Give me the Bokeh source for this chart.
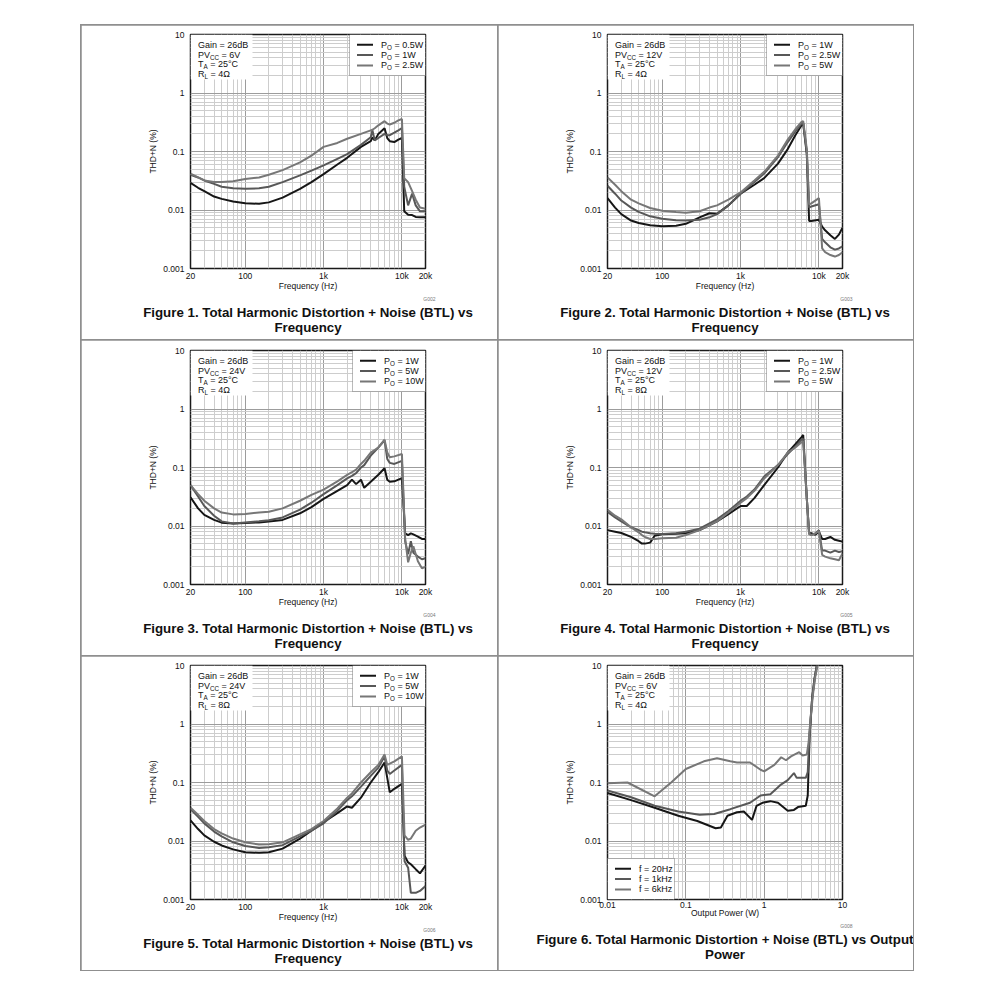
from bokeh.plotting import figure
from bokeh.layouts import row, column
from bokeh.models import Range1d, FixedTicker, Label, BoxAnnotation, Spacer, Title
from bokeh.embed import file_html
from bokeh.resources import INLINE

# ---------------- data ----------------
FREQ_TICKS = [20, 100, 1000, 10000, 20000]
FREQ_LABELS = ["20", "100", "1k", "10k", "20k"]
THD_TICKS = [0.001, 0.01, 0.1, 1, 10]
THD_LABELS = ["0.001", "0.01", "0.1", "1", "10"]
POWER_TICKS = [0.01, 0.1, 1, 10]
POWER_LABELS = ["0.01", "0.1", "1", "10"]

# Figure 1: PVcc = 6V, RL = 4 ohm
F1_FREQ = [20, 25, 30, 40, 50, 70, 100, 150, 200, 300, 500, 700, 1000, 1500, 2000, 3000,
           4000, 4200, 4500, 5000, 6000, 6500, 7000, 8000, 9000, 10000, 10700, 12000,
           13500, 15000, 17000, 20000]
F1_P05W = [0.029, 0.024, 0.021, 0.017, 0.0155, 0.014, 0.013, 0.0128, 0.0135, 0.0163, 0.023,
           0.030, 0.041, 0.060, 0.078, 0.12, 0.15, 0.175, 0.155, 0.2, 0.25, 0.17, 0.15, 0.145,
           0.16, 0.17, 0.0095, 0.0083, 0.0082, 0.0076, 0.0075, 0.0075]
F1_P1W = [0.04, 0.036, 0.032, 0.028, 0.025, 0.0235, 0.023, 0.0235, 0.025, 0.03, 0.039, 0.047,
          0.058, 0.075, 0.09, 0.13, 0.175, 0.23, 0.155, 0.17, 0.2, 0.19, 0.19, 0.21, 0.23, 0.25,
          0.025, 0.012, 0.019, 0.012, 0.0095, 0.0095]
F1_P25W = [0.042, 0.036, 0.032, 0.030, 0.030, 0.031, 0.034, 0.036, 0.04, 0.048, 0.065, 0.085,
           0.12, 0.14, 0.165, 0.2, 0.23, 0.235, 0.25, 0.28, 0.33, 0.3, 0.29, 0.31, 0.34, 0.36,
           0.035, 0.03, 0.021, 0.015, 0.011, 0.0105]

# Figure 2: PVcc = 12V, RL = 4 ohm
F2_FREQ = [20, 25, 30, 40, 50, 70, 100, 150, 200, 300, 400, 500, 700, 1000, 1500, 2000, 3000,
           4000, 5000, 6000, 6300, 7000, 7500, 8000, 10000, 11000, 12000, 14000, 16000, 18000,
           20000]
F2_P1W = [0.016, 0.011, 0.0085, 0.0066, 0.006, 0.0055, 0.0053, 0.0054, 0.0058, 0.0075, 0.0088,
          0.0086, 0.012, 0.019, 0.027, 0.035, 0.062, 0.11, 0.19, 0.28, 0.3, 0.09, 0.0065, 0.0065,
          0.0068, 0.0052, 0.0045, 0.0037, 0.0032, 0.0038, 0.005]
F2_P25W = [0.026, 0.019, 0.0145, 0.011, 0.0093, 0.0078, 0.0071, 0.0067, 0.0066, 0.0068, 0.0075,
           0.0085, 0.012, 0.019, 0.03, 0.042, 0.08, 0.145, 0.22, 0.3, 0.31, 0.1, 0.011, 0.0115,
           0.0125, 0.0032, 0.0028, 0.0023, 0.0021, 0.0022, 0.0024]
F2_P5W = [0.036, 0.027, 0.021, 0.015, 0.013, 0.0108, 0.0097, 0.0092, 0.009, 0.0095, 0.011, 0.012,
          0.015, 0.02, 0.032, 0.045, 0.085, 0.16, 0.24, 0.32, 0.33, 0.11, 0.0125, 0.013, 0.016,
          0.0022, 0.0019, 0.0017, 0.0016, 0.0017, 0.0019]

# Figure 3: PVcc = 24V, RL = 4 ohm
F3_FREQ = [20, 25, 30, 40, 50, 70, 100, 150, 200, 300, 500, 700, 1000, 1500, 2000, 2300, 2600,
           3000, 3300, 4000, 5000, 6000, 6500, 7000, 8000, 10000, 11000, 12000, 13000, 14000,
           16000, 18000, 20000]
F3_P1W = [0.031, 0.02, 0.0155, 0.0127, 0.0114, 0.011, 0.0113, 0.0115, 0.0119, 0.0127, 0.0165,
          0.021, 0.029, 0.04, 0.05, 0.062, 0.052, 0.062, 0.045, 0.057, 0.075, 0.097, 0.062, 0.057,
          0.058, 0.066, 0.0075, 0.007, 0.0075, 0.0072, 0.0066, 0.006, 0.006]
F3_P5W = [0.05, 0.032, 0.022, 0.015, 0.012, 0.011, 0.0115, 0.012, 0.0125, 0.014, 0.019, 0.025,
          0.035, 0.05, 0.065, 0.072, 0.08, 0.1, 0.11, 0.16, 0.22, 0.29, 0.14, 0.12, 0.115, 0.13,
          0.0055, 0.0033, 0.0055, 0.0035, 0.003, 0.0027, 0.0028]
F3_P10W = [0.05, 0.035, 0.027, 0.02, 0.017, 0.0158, 0.016, 0.017, 0.0175, 0.02, 0.027, 0.034,
           0.042, 0.058, 0.075, 0.083, 0.092, 0.115, 0.13, 0.18, 0.22, 0.3, 0.18, 0.15, 0.155,
           0.17, 0.006, 0.0024, 0.0035, 0.0045, 0.0025, 0.0019, 0.002]

# Figure 4: PVcc = 12V, RL = 8 ohm
F4_FREQ = [20, 25, 30, 40, 50, 55, 60, 70, 80, 100, 150, 200, 300, 500, 700, 1000, 1200, 1500,
           2000, 3000, 4000, 5000, 6000, 6300, 7000, 7500, 8000, 9000, 10000, 11000, 12000,
           14000, 16000, 18000, 20000]
F4_P1W = [0.0085, 0.008, 0.0076, 0.0065, 0.0055, 0.005, 0.005, 0.0052, 0.0068, 0.0072, 0.0074,
          0.0075, 0.0085, 0.012, 0.016, 0.022, 0.022, 0.03, 0.05, 0.1, 0.18, 0.25, 0.33, 0.36,
          0.03, 0.0075, 0.0075, 0.0071, 0.008, 0.006, 0.006, 0.0065, 0.0058, 0.0056, 0.0054]
F4_P25W = [0.0175, 0.014, 0.012, 0.0095, 0.0085, 0.008, 0.0078, 0.0075, 0.0074, 0.0073, 0.0075,
           0.008, 0.009, 0.013, 0.018, 0.027, 0.032, 0.042, 0.07, 0.11, 0.17, 0.23, 0.3, 0.31,
           0.03, 0.0075, 0.007, 0.0075, 0.0085, 0.0038, 0.0038, 0.0035, 0.0038, 0.0036, 0.0037]
F4_P5W = [0.019, 0.015, 0.013, 0.0095, 0.0078, 0.007, 0.0065, 0.006, 0.006, 0.0062, 0.0063,
          0.007, 0.0085, 0.012, 0.017, 0.025, 0.03, 0.04, 0.065, 0.11, 0.18, 0.22, 0.27, 0.28,
          0.03, 0.0072, 0.007, 0.0075, 0.0082, 0.0032, 0.003, 0.0028, 0.0027, 0.0026, 0.0034]

# Figure 5: PVcc = 24V, RL = 8 ohm
F5_FREQ = [20, 25, 30, 40, 50, 70, 100, 150, 200, 300, 500, 700, 1000, 1500, 2000, 2300, 3000,
           4000, 5000, 6000, 6500, 7000, 8000, 10000, 10800, 12000, 13000, 15000, 17000, 20000]
F5_P1W = [0.0225, 0.016, 0.0125, 0.0097, 0.0084, 0.0072, 0.0064, 0.0063, 0.0064, 0.0074, 0.011,
          0.015, 0.021, 0.03, 0.039, 0.037, 0.055, 0.1, 0.15, 0.22, 0.12, 0.068, 0.078, 0.095,
          0.0056, 0.0043, 0.004, 0.0033, 0.0028, 0.0038]
F5_P5W = [0.035, 0.026, 0.02, 0.0145, 0.012, 0.0095, 0.0082, 0.0076, 0.0078, 0.0085, 0.012,
          0.015, 0.02, 0.033, 0.05, 0.058, 0.085, 0.13, 0.18, 0.28, 0.16, 0.14, 0.16, 0.2,
          0.0045, 0.0035, 0.0013, 0.0013, 0.0014, 0.0017]
F5_P10W = [0.037, 0.028, 0.022, 0.016, 0.0135, 0.011, 0.0095, 0.0087, 0.0088, 0.0095, 0.013,
           0.016, 0.022, 0.036, 0.055, 0.065, 0.1, 0.15, 0.2, 0.3, 0.2, 0.21, 0.23, 0.28, 0.0125,
           0.0105, 0.011, 0.015, 0.017, 0.019]

# Figure 6: THD+N vs output power, PVcc = 6V, RL = 4 ohm
F6_POWER_20HZ = [0.01, 0.02, 0.04, 0.08, 0.14, 0.24, 0.28, 0.34, 0.45, 0.55, 0.7, 0.8, 0.95, 1.2,
                 1.5, 2.0, 2.4, 2.7, 3.4, 3.6, 3.8, 4.1, 4.4, 4.7]
F6_THD_20HZ = [0.066, 0.05, 0.037, 0.027, 0.022, 0.0165, 0.017, 0.027, 0.031, 0.032, 0.023, 0.04,
               0.045, 0.048, 0.045, 0.033, 0.034, 0.038, 0.04, 0.06, 0.6, 2.8, 6, 10]
F6_POWER_1KHZ = [0.01, 0.02, 0.04, 0.08, 0.15, 0.23, 0.37, 0.66, 0.9, 1.2, 1.6, 2.0, 2.4, 2.6,
                 3.4, 3.6, 3.8, 4.1, 4.4, 4.7]
F6_THD_1KHZ = [0.073, 0.056, 0.04, 0.032, 0.028, 0.029, 0.035, 0.045, 0.06, 0.063, 0.09, 0.11,
               0.145, 0.12, 0.12, 0.15, 0.7, 2.8, 6, 10]
F6_POWER_6KHZ = [0.01, 0.018, 0.04, 0.065, 0.1, 0.17, 0.25, 0.37, 0.45, 0.66, 0.9, 1.0, 1.35,
                 1.65, 1.9, 2.2, 2.8, 3.1, 3.5, 3.7, 3.9, 4.2, 4.5, 4.8]
F6_THD_6KHZ = [0.097, 0.1, 0.058, 0.1, 0.17, 0.23, 0.26, 0.23, 0.22, 0.22, 0.165, 0.155, 0.2,
               0.27, 0.24, 0.28, 0.33, 0.29, 0.3, 0.5, 1.2, 3.2, 6.5, 10]

# ---------------- styling ----------------
FONT = "Liberation Sans"
COLORS = ["#161616", "#585858", "#777777"]
FRAME_W, FRAME_H = 235, 234
COL_W = [416, 415]
ROW_H = [314, 315, 314]
ROW_TOP = [9, 10, 9]
LEFT = 109

ARIAL = {'P': 667, 'V': 667, 'T': 611, 'R': 722, 'C': 722, 'A': 667, 'L': 556, 'O': 778,
         ' ': 278}


def tw(s, size):
    return sum(ARIAL.get(c, 556) for c in s) * size / 1000.0


def label(p, x, y, text, size=9.0, align="left", color="#111111", style="normal"):
    p.add_layout(Label(x=x, y=y, x_units="screen", y_units="screen", text=text,
                       text_font=FONT, text_font_size=f"{size}px", text_align=align,
                       text_baseline="middle", text_color=color, text_font_style=style))


def sub_text(p, x, y, main, sub, rest, size=9.0, subsize=6.3):
    label(p, x, y, main, size)
    if sub:
        x2 = x + tw(main, size)
        label(p, x2, y - 2.5, sub, subsize)
        x3 = x2 + tw(sub, subsize) + tw(" ", size)
        label(p, x3, y, rest.strip(), size)


def log_minor(ticks_major, lo, hi):
    out = []
    for d in ticks_major:
        for k in range(2, 10):
            v = d * k
            if lo < v < hi:
                out.append(v)
    return out


def make_panel(r, c, xr, xticks, xlabels, xminor, xlabel, xs, ys, legend_items, legend_w,
               legend_bottom, conditions, caption, tag):
    w, h = COL_W[c], ROW_H[r]
    top = ROW_TOP[r]
    p = figure(width=w, height=h, x_axis_type="log", y_axis_type="log",
               x_range=Range1d(*xr), y_range=Range1d(0.001, 10),
               toolbar_location=None, output_backend="svg",
               min_border_left=LEFT, min_border_right=w - LEFT - FRAME_W,
               min_border_top=top, min_border_bottom=h - top - FRAME_H)
    p.outline_line_color = "#1a1a1a"
    p.outline_line_width = 1.5
    p.outline_line_alpha = 1.0

    xt = FixedTicker(ticks=xticks, minor_ticks=xminor)
    yt = FixedTicker(ticks=THD_TICKS, minor_ticks=log_minor([0.001, 0.01, 0.1, 1], 0.001, 10))
    p.xaxis.ticker = xt
    p.yaxis.ticker = yt
    p.xgrid.ticker = xt
    p.ygrid.ticker = yt
    p.xaxis.major_label_overrides = dict(zip(xticks, xlabels))
    p.yaxis.major_label_overrides = dict(zip(THD_TICKS, THD_LABELS))
    for g in (p.xgrid, p.ygrid):
        g.grid_line_color = "#9c9c9c"
        g.grid_line_width = 1
        g.minor_grid_line_color = "#cdcdcd"
        g.minor_grid_line_width = 1
    for ax in (p.xaxis, p.yaxis):
        ax.axis_line_color = None
        ax.major_tick_line_color = None
        ax.minor_tick_line_color = None
        ax.major_tick_out = 0
        ax.major_tick_in = 0
        ax.minor_tick_out = 0
        ax.minor_tick_in = 0
        ax.major_label_text_font = FONT
        ax.major_label_text_font_size = "8.5px"
        ax.major_label_text_color = "#111111"
        ax.axis_label_text_font = FONT
        ax.axis_label_text_font_size = "8.5px"
        ax.axis_label_text_font_style = "normal"
        ax.axis_label_text_color = "#111111"
    p.xaxis.axis_label = xlabel
    p.xaxis.major_label_standoff = 2
    p.xaxis.axis_label_standoff = -3
    p.yaxis.axis_label = "THD+N (%)"
    p.yaxis.major_label_standoff = 6
    p.yaxis.axis_label_standoff = 2

    for i, (x, y) in enumerate(zip(xs, ys)):
        p.line(x, y, line_color=COLORS[i], line_width=2)

    # white area behind the test conditions
    p.add_layout(BoxAnnotation(left=0, right=62, top=FRAME_H, bottom=FRAME_H - 45,
                               left_units="screen", right_units="screen",
                               top_units="screen", bottom_units="screen",
                               fill_color="white", fill_alpha=1.0, line_color=None))
    for i, (m, s, rest) in enumerate(conditions):
        sub_text(p, 7.5, FRAME_H - 10.5 - 9.6 * i, m, s, rest)

    # legend
    lh = 41
    if legend_bottom:
        lx0, ly0 = 0, 0
    else:
        lx0, ly0 = FRAME_W - legend_w, FRAME_H - lh
    p.add_layout(BoxAnnotation(left=lx0, right=lx0 + legend_w, top=ly0 + lh, bottom=ly0,
                               left_units="screen", right_units="screen",
                               top_units="screen", bottom_units="screen",
                               fill_color="white", fill_alpha=1.0,
                               line_color="#1a1a1a", line_width=1))
    for i, (m, s, rest) in enumerate(legend_items):
        yy = ly0 + lh - 10.3 - 10.3 * i
        p.add_layout(BoxAnnotation(left=lx0 + 7.5, right=lx0 + 23.5, top=yy + 1, bottom=yy - 1,
                                   left_units="screen", right_units="screen",
                                   top_units="screen", bottom_units="screen",
                                   fill_color=COLORS[i], fill_alpha=1.0, line_color=None))
        sub_text(p, lx0 + 31.5, yy, m, s, rest)

    # tag + caption below the plot
    p.add_layout(Title(text=tag, align="right", offset=-10, standoff=0, text_font=FONT,
                       text_font_size="5px", text_font_style="normal", text_color="#777777"),
                 "below")
    for j, line in enumerate(caption):
        p.add_layout(Title(text=line, align="center", standoff=(2 if j == 0 else -5),
                           text_font=FONT, text_font_size="13.3px", text_font_style="bold",
                           text_color="#111111"), "below")
    return p


FREQ_MINOR = log_minor([10, 100, 1000, 10000], 20, 20000)
POWER_MINOR = log_minor([0.01, 0.1, 1], 0.01, 10)


def cond(v, rl):
    return [("Gain = 26dB", "", ""), ("PV", "CC", f" = {v}"), ("T", "A", " = 25°C"),
            ("R", "L", f" = {rl}")]


def po(vals):
    return [("P", "O", f" = {v}") for v in vals]


CAP = "Total Harmonic Distortion + Noise (BTL) vs"

figs = [
    make_panel(0, 0, (20, 20000), FREQ_TICKS, FREQ_LABELS, FREQ_MINOR, "Frequency (Hz)",
               [F1_FREQ] * 3, [F1_P05W, F1_P1W, F1_P25W], po(["0.5W", "1W", "2.5W"]), 76, False,
               cond("6V", "4Ω"), [f"Figure 1. {CAP}", "Frequency"], "G002"),
    make_panel(0, 1, (20, 20000), FREQ_TICKS, FREQ_LABELS, FREQ_MINOR, "Frequency (Hz)",
               [F2_FREQ] * 3, [F2_P1W, F2_P25W, F2_P5W], po(["1W", "2.5W", "5W"]), 76, False,
               cond("12V", "4Ω"), [f"Figure 2. {CAP}", "Frequency"], "G003"),
    make_panel(1, 0, (20, 20000), FREQ_TICKS, FREQ_LABELS, FREQ_MINOR, "Frequency (Hz)",
               [F3_FREQ] * 3, [F3_P1W, F3_P5W, F3_P10W], po(["1W", "5W", "10W"]), 73, False,
               cond("24V", "4Ω"), [f"Figure 3. {CAP}", "Frequency"], "G004"),
    make_panel(1, 1, (20, 20000), FREQ_TICKS, FREQ_LABELS, FREQ_MINOR, "Frequency (Hz)",
               [F4_FREQ] * 3, [F4_P1W, F4_P25W, F4_P5W], po(["1W", "2.5W", "5W"]), 76, False,
               cond("12V", "8Ω"), [f"Figure 4. {CAP}", "Frequency"], "G005"),
    make_panel(2, 0, (20, 20000), FREQ_TICKS, FREQ_LABELS, FREQ_MINOR, "Frequency (Hz)",
               [F5_FREQ] * 3, [F5_P1W, F5_P5W, F5_P10W], po(["1W", "5W", "10W"]), 73, False,
               cond("24V", "8Ω"), [f"Figure 5. {CAP}", "Frequency"], "G006"),
    make_panel(2, 1, (0.01, 10), POWER_TICKS, POWER_LABELS, POWER_MINOR, "Output Power (W)",
               [F6_POWER_20HZ, F6_POWER_1KHZ, F6_POWER_6KHZ],
               [F6_THD_20HZ, F6_THD_1KHZ, F6_THD_6KHZ],
               [("f = 20Hz", "", ""), ("f = 1kHz", "", ""), ("f = 6kHz", "", "")], 67, True,
               cond("6V", "4Ω"), [f"Figure 6. {CAP} Output", "Power"], "G008"),
]

grid = column(
    row(figs[0], figs[1], spacing=1),
    row(figs[2], figs[3], spacing=1),
    row(figs[4], figs[5], spacing=1),
    spacing=1,
    styles={"background-color": "#8f8f8f", "outline": "1px solid #8f8f8f"},
)
page = column(Spacer(height=25), row(Spacer(width=81), grid))

open("out.html", "w").write(file_html(page, INLINE))
